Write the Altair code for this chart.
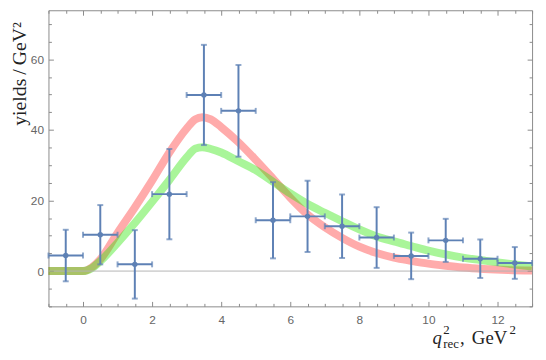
import altair as alt
import pandas as pd

# ---- data ----
bin_x = [-0.5, 0.5, 1.5, 2.5, 3.5, 4.5, 5.5, 6.5, 7.5, 8.5, 9.5, 10.5, 11.5, 12.5]
bin_y = [4.4, 10.3, 1.9, 21.8, 49.9, 45.4, 14.4, 15.5, 12.7, 9.5, 4.3, 8.7, 3.5, 2.3]
bin_err = [7.3, 8.4, 9.7, 12.8, 14.2, 13.0, 10.8, 10.1, 9.0, 8.6, 6.6, 6.1, 5.45, 4.5]
bin_half = [0.5] * 14

curve_x = [-1, 0, 0.25, 0.5, 1.0, 1.5, 2.0, 2.5, 3.0, 3.25, 3.45, 3.7, 4.0, 4.5, 5.0,
           5.5, 6.0, 6.5, 7.0, 7.5, 8.0, 8.5, 9.0, 9.5, 10.0, 10.5, 11.0, 11.6, 12.3, 13.0]
red_y = [0, 0, 1.0, 3.3, 10.8, 18.0, 25.6, 33.6, 40.4, 43.0, 43.6, 43.0, 40.8, 36.5, 31.5,
         26.2, 20.8, 16.0, 12.4, 9.4, 6.9, 5.1, 3.8, 2.9, 2.1, 1.5, 1.0, 0.6, 0.3, 0.15]
green_y = [0, 0, 0.8, 2.8, 8.0, 13.6, 19.6, 25.8, 32.2, 34.7, 35.1, 34.6, 33.6, 31.1, 28.6,
           25.3, 22.0, 19.0, 16.5, 14.1, 11.8, 9.8, 8.4, 7.1, 5.8, 4.7, 3.8, 3.0, 2.1, 1.3]

x_major = [0, 2, 4, 6, 8, 10, 12]
x_minor = [v / 2 for v in range(-2, 27) if (v / 2) not in x_major]
y_major = [0, 20, 40, 60]
y_minor = [v for v in range(-10, 76, 5) if v not in y_major]

XDOM = [-1, 13]
YDOM = [-10, 73.9]
W, H = 490, 300

pts = pd.DataFrame({"x": bin_x, "y": bin_y, "err": bin_err, "half": bin_half})
pts["lo"] = pts.y - pts.err
pts["hi"] = pts.y + pts.err
pts["xl"] = pts.x - pts.half
pts["xr"] = pts.x + pts.half
curves = pd.DataFrame({"x": curve_x, "red": red_y, "green": green_y})

FRAME = "#8a8a8a"
BLUE = "#5e81b5"

def xs(axis=None):
    return alt.X("x:Q", scale=alt.Scale(domain=XDOM, nice=False, zero=False), axis=axis, title=None)

def ys(field, axis=None):
    return alt.Y(field, scale=alt.Scale(domain=YDOM, nice=False, zero=False), axis=axis, title=None)

def ax(orient, values, size, labels):
    kw = dict(orient=orient, values=values, tickSize=size, offset=-size, domain=False,
              grid=False, labels=labels, tickColor=FRAME, tickWidth=1)
    if labels:
        kw.update(labelFont="Liberation Sans", labelFontSize=12, labelColor="#666666",
                  labelPadding=8 if orient == "bottom" else 5)
    return alt.Axis(**kw)

red = alt.Chart(curves).mark_line(color="#ff0000", opacity=0.33, strokeWidth=8, interpolate="monotone").encode(
    x=xs(ax("bottom", x_major, 5, True)), y=ys("red:Q", ax("left", y_major, 5, True)))
green = alt.Chart(curves).mark_line(color="#28e600", opacity=0.4, strokeWidth=8, interpolate="monotone").encode(
    x=xs(ax("bottom", x_minor, 3, False)), y=ys("green:Q", ax("left", y_minor, 3, False)))
zero = alt.Chart(curves).mark_rule(color="#b4b4b4", strokeWidth=1).encode(
    x=alt.value(0), x2=alt.value(W),
    y=ys("z:Q", ax("right", y_major, 5, False))).transform_filter("datum.x == 13").transform_calculate(z="0")
zero_top = alt.Chart(curves).mark_point(opacity=0).encode(
    x=xs(ax("top", x_major, 5, False)), y=ys("red:Q", ax("right", y_minor, 3, False)))
vbar = alt.Chart(pts).mark_rule(color=BLUE, strokeWidth=2).encode(
    x=xs(ax("top", x_minor, 3, False)), y=ys("lo:Q"), y2="hi:Q")
hbar = alt.Chart(pts).mark_rule(color=BLUE, strokeWidth=2).encode(
    x=alt.X("xl:Q", scale=alt.Scale(domain=XDOM, nice=False), axis=None), x2="xr:Q", y=ys("y:Q"))
capv_lo = alt.Chart(pts).mark_tick(color=BLUE, orient="horizontal", size=6, thickness=2).encode(
    x=xs(), y=ys("lo:Q"))
capv_hi = alt.Chart(pts).mark_tick(color=BLUE, orient="horizontal", size=6, thickness=2).encode(
    x=xs(), y=ys("hi:Q"))
caph_l = alt.Chart(pts).mark_tick(color=BLUE, orient="vertical", size=6, thickness=2).encode(
    x=alt.X("xl:Q", scale=alt.Scale(domain=XDOM, nice=False), axis=None), y=ys("y:Q"))
caph_r = alt.Chart(pts).mark_tick(color=BLUE, orient="vertical", size=6, thickness=2).encode(
    x=alt.X("xr:Q", scale=alt.Scale(domain=XDOM, nice=False), axis=None), y=ys("y:Q"))
dots = alt.Chart(pts).mark_circle(color=BLUE, size=30, opacity=1).encode(x=xs(), y=ys("y:Q"))

SERIF = "Liberation Serif"
title_df = pd.DataFrame({"t": ["yields\u2009/\u2009GeV\u00b2"]})
ytitle = alt.Chart(title_df).mark_text(font=SERIF, fontSize=20, color="#222222", angle=270,
                                       align="right", baseline="alphabetic").encode(
    text="t:N", x=alt.value(-23), y=alt.value(12))

def piece(txt, x, y, size, style="normal"):
    return alt.Chart(pd.DataFrame({"t": [txt]})).mark_text(
        font=SERIF, fontSize=size, fontStyle=style, color="#222222", align="left",
        baseline="alphabetic").encode(text="t:N", x=alt.value(x), y=alt.value(y))

BL = 338
xtitle = [
    piece("q", 389, BL, 19, "italic"),
    piece("2", 400, BL - 10, 13),
    piece("rec", 400, BL + 4, 13),
    piece(",", 417, BL, 19),
    piece("GeV", 429, BL, 19),
    piece("2", 467, BL - 10, 13),
]

chart = alt.layer(red, green, zero, zero_top, hbar, vbar, capv_lo, capv_hi, caph_l, caph_r, dots,
                  ytitle, *xtitle).resolve_axis(x="independent", y="independent").properties(
    width=W, height=H, autosize=alt.AutoSizeParams(type="none"),
    padding={"left": 41, "top": 0, "right": 6, "bottom": 48},
).configure_view(stroke=FRAME, strokeWidth=1)

chart.save("out.html", embed_options={"renderer": "svg", "actions": False})
